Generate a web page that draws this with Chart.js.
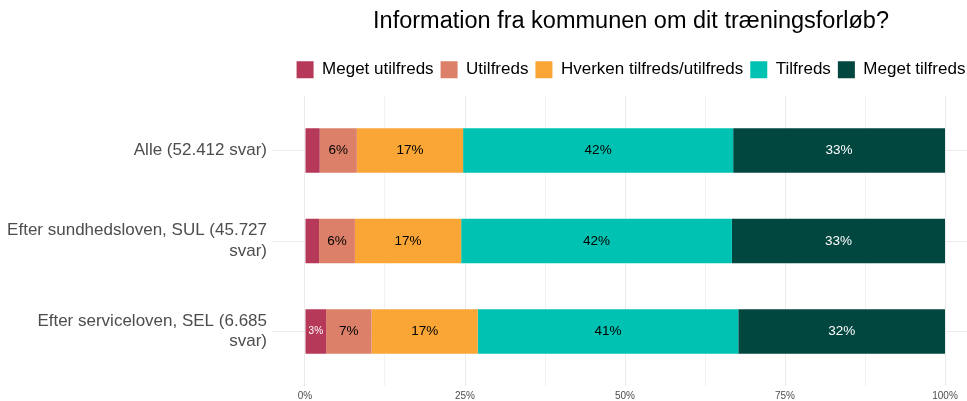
<!DOCTYPE html>
<html><head><meta charset="utf-8">
<script src="https://cdn.jsdelivr.net/npm/chart.js@4/dist/chart.umd.min.js"></script>
<style>html,body{margin:0;padding:0;overflow:hidden;background:#fff}</style>
</head><body>
<canvas id="c" width="990" height="401" style="display:block;width:990px;height:401px"></canvas>
<script>
const chartTitle = 'Information fra kommunen om dit træningsforløb?';
const categories = [
  ['Alle (52.412 svar)'],
  ['Efter sundhedsloven, SUL (45.727', 'svar)'],
  ['Efter serviceloven, SEL (6.685', 'svar)']
];
const seriesNames = ['Meget utilfreds', 'Utilfreds', 'Hverken tilfreds/utilfreds', 'Tilfreds', 'Meget tilfreds'];
const megetUtilfreds = [2.3, 2.2, 3.3];
const utilfreds      = [5.8, 5.6, 7.1];
const hverken        = [16.6, 16.6, 16.6];
const tilfreds       = [42.2, 42.3, 40.7];
const megetTilfreds  = [33.1, 33.3, 32.3];
const majorTicks = [0, 25, 50, 75, 100];
const minorTicks = [12.5, 37.5, 62.5, 87.5];

const seriesValues = [megetUtilfreds, utilfreds, hverken, tilfreds, megetTilfreds];
const seriesColors = ['#b7395a', '#dc8069', '#f9a636', '#00c2b2', '#02473f'];
const labelColors = ['#ffffff', '#000000', '#000000', '#000000', '#ffffff'];
const FONT = "'Liberation Sans', Arial, sans-serif";
Chart.defaults.font.family = FONT;

const barLabels = {
  id: 'barLabels',
  afterDatasetsDraw(chart) {
    const ctx = chart.ctx;
    ctx.save();
    ctx.textAlign = 'center';
    ctx.textBaseline = 'middle';
    chart.data.datasets.forEach((ds, i) => {
      const meta = chart.getDatasetMeta(i);
      meta.data.forEach((el, j) => {
        const r = Math.round(ds.data[j].x);
        if (r < 3) return;
        ctx.font = (r < 5 ? 10 : 13.5) + 'px ' + FONT;
        ctx.fillStyle = labelColors[i];
        ctx.fillText(r + '%', (el.x + el.base) / 2, el.y);
      });
    });
    ctx.restore();
  }
};

const allX = majorTicks.concat(minorTicks).sort((a, b) => a - b);

new Chart(document.getElementById('c'), {
  type: 'bar',
  data: {
    datasets: seriesNames.map((name, i) => ({
      label: name,
      data: categories.map((c, j) => ({ x: seriesValues[i][j], y: j })),
      backgroundColor: seriesColors[i],
      borderWidth: 0,
      stack: 's',
      categoryPercentage: 1,
      barPercentage: 0.49
    }))
  },
  options: {
    indexAxis: 'y',
    responsive: false,
    animation: false,
    devicePixelRatio: 1,
    layout: { padding: 0 },
    plugins: {
      title: {
        display: true, text: chartTitle, fullSize: false, color: '#000',
        font: { size: 23.5, weight: 'normal' }, padding: { top: 7, bottom: 19 }
      },
      legend: {
        display: true, position: 'top', fullSize: false,
        labels: { boxWidth: 17, boxHeight: 17, padding: 7, color: '#000', font: { size: 17 } }
      },
      tooltip: { enabled: false }
    },
    scales: {
      x: {
        type: 'linear', stacked: true, min: -5.156, max: 107.03, position: 'bottom',
        afterBuildTicks: s => { s.ticks = allX.map(v => ({ value: v })); },
        afterFit: s => { s.height = 14; },
        border: { display: false },
        grid: {
          drawTicks: false, lineWidth: 1,
          color: c => (c.tick && majorTicks.includes(c.tick.value)) ? '#ebebeb' : '#f2f2f2'
        },
        ticks: {
          autoSkip: false, padding: 4, color: '#4d4d4d', font: { size: 10 }, maxRotation: 0,
          callback: v => majorTicks.includes(v) ? v + '%' : ''
        }
      },
      xTop: {
        type: 'linear', position: 'top', display: true,
        afterFit: s => { s.height = 8; },
        grid: { display: false, drawTicks: false }, border: { display: false },
        ticks: { display: false }
      },
      y: {
        type: 'linear', min: -0.6, max: 2.6, reverse: true, offset: false,
        afterBuildTicks: s => { s.ticks = categories.map((c, j) => ({ value: j })); },
        afterFit: s => { s.width = 272; },
        border: { display: false },
        grid: { drawTicks: false, offset: false, color: '#ebebeb', lineWidth: 1 },
        ticks: {
          autoSkip: false, padding: 5, color: '#4d4d4d', font: { size: 17 },
          callback: v => categories[v]
        }
      }
    }
  },
  plugins: [barLabels]
});
</script>
</body></html>
